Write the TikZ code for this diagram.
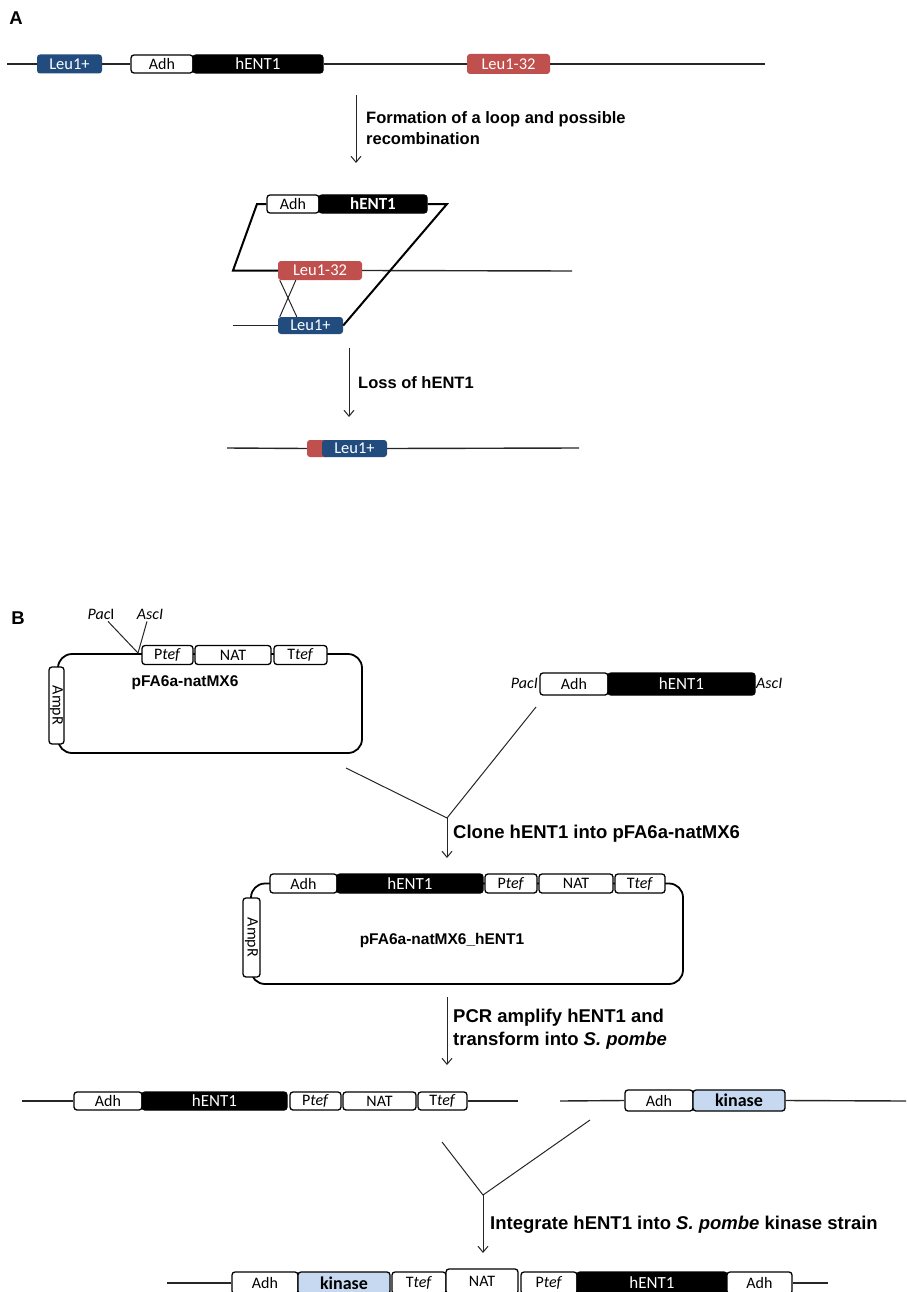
\documentclass[tikz,border=0pt]{standalone}
\usepackage{fontspec}
\setmainfont{Carlito}
\newfontfamily\arial{Liberation Sans}
\usetikzlibrary{arrows.meta}
\definecolor{leublue}{RGB}{33,76,125}
\definecolor{leured}{RGB}{192,80,77}
\definecolor{kinblue}{RGB}{198,217,241}
\tikzset{
 gline/.style={line width=1.4pt, draw=black!85},
 thinl/.style={line width=1pt, draw=black!85},
 thickl/.style={line width=2pt, draw=black},
 gbox/.style={draw=black, line width=1.3pt, rounded corners=3pt, fill=white, inner sep=0pt, font=\fontsize{16}{18}\selectfont},
 blackbox/.style={gbox, fill=black, text=white, font=\fontsize{17}{18}\selectfont},
 bluebox/.style={draw=none, fill=leublue, rounded corners=3pt, inner sep=0pt, text=white, font=\fontsize{16.5}{18}\selectfont},
 redbox/.style={bluebox, fill=leured},
 kinbox/.style={gbox, fill=kinblue, font=\fontsize{18}{18}\selectfont\bfseries},
 lab/.style={font=\arial\bfseries\fontsize{16.5}{21}\selectfont, align=left, inner sep=0pt},
 labb/.style={font=\arial\bfseries\fontsize{18.5}{22.5}\selectfont, align=left, inner sep=0pt},
 plab/.style={font=\arial\bfseries\fontsize{15.5}{18}\selectfont, inner sep=0pt},
 enz/.style={font=\fontsize{16}{18}\selectfont, inner sep=1pt},
 stepar/.style={line width=1pt, draw=black!85, -{Straight Barb[length=6pt,width=10pt]}},
 plasmid/.style={line width=1.8pt, draw=black, rounded corners=14pt},
 wh/.style 2 args={minimum width=#1pt, minimum height=#2pt},
}
\begin{document}
\begin{tikzpicture}[x=1pt,y=-1pt]
\useasboundingbox (0,0) rectangle (906,1292);
% ---------------- Panel A ----------------
\node[font=\arial\bfseries\fontsize{18.5}{20}\selectfont] (A) at (16,18) {A};
\coordinate (a0) at (7,64); \coordinate (a1) at (765,64);
\node[bluebox, wh={65}{19}] (leuA) at (69.5,64) {Leu1+};
\node[gbox, wh={62}{18}] (adhA) at (162,64) {Adh};
\node[blackbox, wh={130}{18}] (hentA) at (258,64) {hENT1};
\node[redbox, wh={83}{20}] (leu32A) at (508.5,64) {Leu1-32};
\draw[gline] (a0) -- (leuA.west);
\draw[gline] (leuA.east) -- (adhA.west);
\draw[gline] (hentA.east) -- (leu32A.west);
\draw[gline] (leu32A.east) -- (a1);
\coordinate (r1s) at (356,95); \coordinate (r1e) at (356,163);
\draw[stepar] (r1s) -- (r1e);
\node[lab, anchor=north west] (t1) at (366,111) {Formation of a loop and possible\\recombination};
% loop
\node[gbox, wh={52}{18}] (adhL) at (293,204) {Adh};
\node[blackbox, wh={108}{18}, font=\fontsize{17}{18}\selectfont\bfseries] (hentL) at (373,204) {hENT1};
\node[redbox, wh={84}{19}] (leu32L) at (320,270.5) {Leu1-32};
\node[bluebox, wh={65}{17}] (leuL) at (310.5,325.5) {Leu1+};
\coordinate (lp1) at (257,204); \coordinate (lp2) at (233,270.5);
\coordinate (lp3) at (447,204); \coordinate (lp4) at (572,271);
\coordinate (lp5) at (233,325.5);
\draw[thickl] (adhL.west) -- (lp1) -- (lp2) -- (leu32L.west);
\draw[gline] (leu32L.east) -- (lp4);
\draw[gline] (lp5) -- (leuL.west);
\draw[thickl] (hentL.east) -- (lp3) -- (leuL.east);
\draw[thinl] ([xshift=2pt]leu32L.south west) -- ([xshift=19pt]leuL.north west);
\draw[thinl] ([xshift=18pt]leu32L.south west) -- ([xshift=2pt]leuL.north west);
\coordinate (r2s) at (349,348); \coordinate (r2e) at (349,417);
\draw[stepar] (r2s) -- (r2e);
\node[lab, anchor=west] (t2) at (358,383) {Loss of hENT1};
% result
\coordinate (c0) at (227,448); \coordinate (c1) at (579,448);
\node[redbox, wh={23}{17}] (redC) at (318.5,448.5) {};
\node[bluebox, wh={65}{17}] (leuC) at (354.5,448.5) {Leu1+};
\draw[gline] (c0) -- (redC.west);
\draw[gline] (leuC.east) -- (c1);
% ---------------- Panel B ----------------
\node[font=\arial\bfseries\fontsize{18.5}{20}\selectfont] (B) at (18,618) {B};
\draw[plasmid] (58,654) rectangle (362,753);
\node[gbox, wh={51}{19}] (ptef1) at (167.5,655) {P\textit{tef}};
\node[gbox, wh={76}{19}] (nat1) at (233,655) {NAT};
\node[gbox, wh={53}{19}] (ttef1) at (300.5,655) {T\textit{tef}};
\node[gbox, rotate=-90, wh={77}{15}] (amp1) at (56.5,705.5) {AmpR};
\node[plab] (p1lab) at (185,683) {pFA6a-natMX6};
\node[enz] (pac1) at (101,614) {\textit{Pac}I};
\node[enz] (asc1) at (150,614) {\textit{AscI}};
\coordinate (cut1) at (138,653);
\draw[thinl] ([xshift=7pt,yshift=-1pt]pac1.south) -- (cut1);
\draw[thinl] ([xshift=-3pt,yshift=-1pt]asc1.south) -- (cut1);
% fragment
\node[gbox, wh={68}{22}] (adhF) at (574,684) {Adh};
\node[blackbox, wh={147}{22}] (hentF) at (681.5,684) {hENT1};
\node[enz, anchor=east] (pacF) at (539,683) {\textit{PacI}};
\node[enz, anchor=west] (ascF) at (755,683) {\textit{AscI}};
\coordinate (y1a) at (536,707); \coordinate (y1b) at (346,768);
\coordinate (y1m) at (447,818); \coordinate (y1e) at (447,858);
\draw[thinl] (y1b) -- (y1m) -- (y1a);
\draw[stepar] (y1m) -- (y1e);
\node[labb, anchor=west] (t3) at (453,834) {Clone hENT1 into pFA6a-natMX6};
% plasmid 2
\draw[plasmid] (251,883.5) rectangle (683,984);
\node[gbox, wh={67}{19}] (adhM) at (303.5,883.5) {Adh};
\node[blackbox, wh={146}{19}] (hentM) at (410,883.5) {hENT1};
\node[gbox, wh={52}{19}] (ptefM) at (511,883.5) {P\textit{tef}};
\node[gbox, wh={74}{19}] (natM) at (576,883.5) {NAT};
\node[gbox, wh={50}{19}] (ttefM) at (640,883.5) {T\textit{tef}};
\node[gbox, rotate=-90, wh={79}{17}] (ampM) at (251.5,937.5) {AmpR};
\node[plab] (p2lab) at (442,940) {pFA6a-natMX6\_hENT1};
\coordinate (r3s) at (447,997); \coordinate (r3e) at (447,1065);
\draw[stepar] (r3s) -- (r3e);
\node[labb, anchor=north west] (t4) at (453,1009) {PCR amplify hENT1 and\\transform into \textit{S. pombe}};
% bottom row
\coordinate (d0) at (22,1101); \coordinate (d1) at (518,1101);
\node[gbox, wh={68}{18}] (adhD) at (108,1101) {Adh};
\node[blackbox, wh={145}{18}] (hentD) at (214.5,1101) {hENT1};
\node[gbox, wh={51}{18}] (ptefD) at (315.5,1101) {P\textit{tef}};
\node[gbox, wh={73}{18}] (natD) at (379.5,1101) {NAT};
\node[gbox, wh={49}{18}] (ttefD) at (442.5,1101) {T\textit{tef}};
\draw[gline] (d0) -- (adhD.west);
\draw[gline] (ttefD.east) -- (d1);
\coordinate (e0) at (560,1101); \coordinate (e1) at (906,1101);
\node[gbox, wh={68}{21}] (adhE) at (659,1100.5) {Adh};
\node[kinbox, wh={92}{21}] (kinE) at (739,1100.5) {kinase};
\draw[gline] (e0) -- (adhE.west);
\draw[gline] (kinE.east) -- (e1);
\coordinate (y2a) at (590,1120); \coordinate (y2b) at (442,1142);
\coordinate (y2m) at (483,1195); \coordinate (y2e) at (483,1253);
\draw[thinl] (y2b) -- (y2m) -- (y2a);
\draw[stepar] (y2m) -- (y2e);
\node[labb, anchor=west] (t5) at (490,1225) {Integrate hENT1 into \textit{S. pombe} kinase strain};
% final row
\coordinate (f0) at (167,1283); \coordinate (f1) at (828,1283);
\node[gbox, wh={66}{22}] (adhF1) at (265,1283) {Adh};
\node[kinbox, wh={92}{22}] (kinF) at (344,1283) {kinase};
\node[gbox, wh={54}{22}] (ttefF) at (419,1283) {T\textit{tef}};
\node[gbox, wh={72}{25}] (natF) at (482,1281.5) {NAT};
\node[gbox, wh={56}{22}] (ptefF) at (549,1283) {P\textit{tef}};
\node[blackbox, wh={150}{22}] (hentF2) at (652,1283) {hENT1};
\node[gbox, wh={65}{22}] (adhF2) at (759.5,1283) {Adh};
\draw[gline] (f0) -- (adhF1.west);
\draw[gline] (adhF2.east) -- (f1);
\end{tikzpicture}
\end{document}
